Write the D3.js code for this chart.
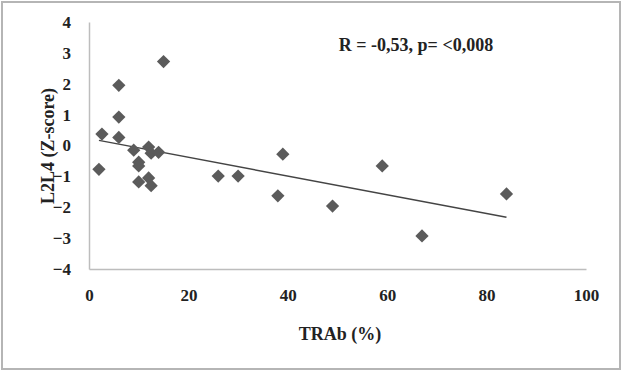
<!DOCTYPE html>
<html>
<head>
<meta charset="utf-8">
<script src="https://cdn.jsdelivr.net/npm/d3@7"></script>
<style>
  body { margin: 0; background: #fff; }
  text { font-family: "Liberation Serif", "Times New Roman", serif; font-weight: bold; }
</style>
</head>
<body>
<svg id="chart"></svg>
<script>
// TRAb (%) vs L2L4 Z-score
const trab = [15, 6, 6, 2.6, 6, 2, 9, 12, 12.5, 14, 10, 10, 10, 12, 12.5, 26, 30, 38, 39, 49, 59, 67, 84];
const zscore = [2.72, 1.95, 0.92, 0.37, 0.26, -0.77, -0.15, -0.05, -0.25, -0.22, -0.54, -0.66, -1.18, -1.05, -1.3, -0.99, -0.99, -1.63, -0.28, -1.96, -0.66, -2.93, -1.57];
const xTicks = [0, 20, 40, 60, 80, 100];
const yTicks = [-4, -3, -2, -1, 0, 1, 2, 3, 4];
const annotation = "R = -0,53, p= <0,008";

const width = 623, height = 372;
const margin = { top: 22, right: 37, bottom: 103, left: 89 };

const svg = d3.select("#chart").attr("width", width).attr("height", height);

// outer frame
svg.append("rect")
  .attr("x", 2).attr("y", 2)
  .attr("width", width - 5).attr("height", height - 5)
  .attr("fill", "#fff").attr("stroke", "#b5b5b5").attr("stroke-width", 2);

const x = d3.scaleLinear().domain([0, 100]).range([margin.left, width - margin.right]);
const y = d3.scaleLinear().domain([-4, 4]).range([height - margin.bottom, margin.top]);

// axes: light grey lines, no ticks
svg.append("g")
  .attr("transform", `translate(0, ${y(-4)})`)
  .call(d3.axisBottom(x).tickValues(xTicks).tickSize(0).tickPadding(20))
  .call((g) => g.select(".domain").attr("stroke", "#bdbdbd").attr("stroke-width", 1.5))
  .call((g) => g.selectAll("text").attr("font-size", 17).attr("fill", "#222"));

svg.append("g")
  .attr("transform", `translate(${x(0)}, 0)`)
  .call(d3.axisLeft(y).tickValues(yTicks).tickSize(0).tickPadding(18))
  .call((g) => g.select(".domain").attr("stroke", "#bdbdbd").attr("stroke-width", 1.5))
  .call((g) => g.selectAll("text").attr("font-size", 17).attr("fill", "#222"));

// least squares trend line from the points
const mx = d3.mean(trab), my = d3.mean(zscore);
const slope = d3.sum(trab, (v, i) => (v - mx) * (zscore[i] - my)) / d3.sum(trab, (v) => (v - mx) ** 2);
const icpt = my - slope * mx;
const [x0, x1] = d3.extent(trab);

svg.append("line")
  .attr("x1", x(x0)).attr("y1", y(icpt + slope * x0))
  .attr("x2", x(x1)).attr("y2", y(icpt + slope * x1))
  .attr("stroke", "#444").attr("stroke-width", 1.4);

// diamond markers
const diamond = d3.symbol().type(d3.symbolSquare).size(88);
svg.append("g")
  .selectAll("path")
  .data(trab.map((v, i) => [v, zscore[i]]))
  .join("path")
  .attr("d", diamond)
  .attr("transform", (d) => `translate(${x(d[0])}, ${y(d[1])}) rotate(45)`)
  .attr("fill", "#5b5b5b");

// titles
svg.append("text")
  .attr("x", 340).attr("y", 340)
  .attr("text-anchor", "middle")
  .attr("font-size", 18).attr("fill", "#222")
  .text("TRAb (%)");

svg.append("text")
  .attr("transform", `translate(54, 146) rotate(-90)`)
  .attr("text-anchor", "middle")
  .attr("font-size", 18).attr("fill", "#222")
  .text("L2L4 (Z-score)");

svg.append("text")
  .attr("x", 416).attr("y", 51)
  .attr("text-anchor", "middle")
  .attr("font-size", 18).attr("fill", "#222")
  .text(annotation);
</script>
</body>
</html>
